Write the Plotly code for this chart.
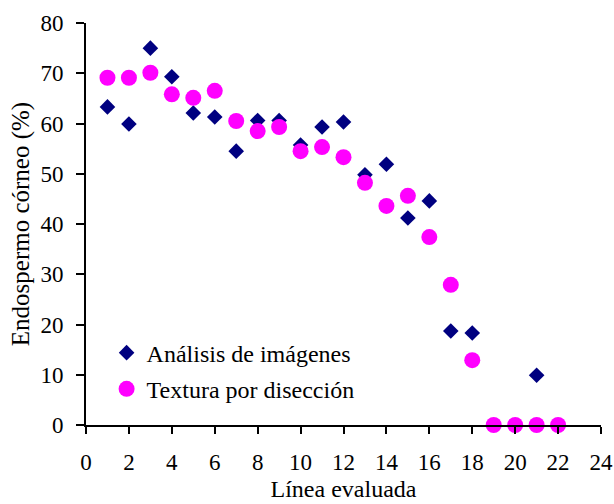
import plotly.graph_objects as go

analisis_x = [1, 2, 3, 4, 5, 6, 7, 8, 9, 10, 11, 12, 13, 14, 15, 16, 17, 18, 21]
analisis_y = [63.3, 59.9, 75.0, 69.3, 62.1, 61.3, 54.5, 60.6, 60.6, 55.7, 59.3, 60.3,
              49.8, 51.9, 41.2, 44.6, 18.7, 18.3, 9.9]
textura_x = list(range(1, 23))
textura_y = [69.1, 69.1, 70.1, 65.8, 65.1, 66.5, 60.5, 58.5, 59.3, 54.5, 55.3, 53.3,
             48.2, 43.6, 45.6, 37.4, 27.9, 12.9, 0, 0, 0, 0]

font = "Liberation Serif, Times New Roman, serif"

fig = go.Figure()
fig.add_trace(go.Scatter(x=analisis_x, y=analisis_y, mode="markers",
                         name="Análisis de imágenes", legendgroup="a",
                         marker=dict(symbol="diamond", size=12, color="#000080")))
fig.add_trace(go.Scatter(x=textura_x, y=textura_y, mode="markers",
                         name="Textura por disección", legendgroup="b",
                         marker=dict(symbol="circle", size=16, color="#FF00FF")))

fig.update_layout(
    width=614, height=504,
    margin=dict(l=86, r=13, t=23, b=79),
    paper_bgcolor="white", plot_bgcolor="white",
    font=dict(family=font, size=24, color="black"),
    showlegend=True,
    legend=dict(x=0.04, y=0.235, xanchor="left", yanchor="top",
                bgcolor="rgba(0,0,0,0)", font=dict(size=24), itemsizing="trace",
                traceorder="grouped", tracegroupgap=2, itemwidth=30),
    xaxis=dict(range=[0, 24], tickvals=list(range(0, 25, 2)), showgrid=False,
               zeroline=False, showline=True, linecolor="black", linewidth=2,
               ticks="outside", ticklen=7, tickwidth=2, tickcolor="black",
               automargin=False, tickfont=dict(size=23), ticklabelstandoff=8,
               title=dict(text="Línea evaluada", standoff=7, font=dict(size=24))),
    yaxis=dict(range=[0, 80], tickvals=list(range(0, 81, 10)), showgrid=False,
               zeroline=False, showline=True, linecolor="black", linewidth=2,
               ticks="outside", ticklen=8, tickwidth=2, tickcolor="black",
               automargin=False, tickfont=dict(size=23), ticklabelstandoff=8,
               title=dict(text="Endospermo córneo (%)", standoff=4, font=dict(size=25))),
)
fig.update_traces(cliponaxis=False)
fig.write_html("out.html", config={"displayModeBar": False},
               post_script="document.body.style.margin='0';document.body.style.overflow='hidden';")
